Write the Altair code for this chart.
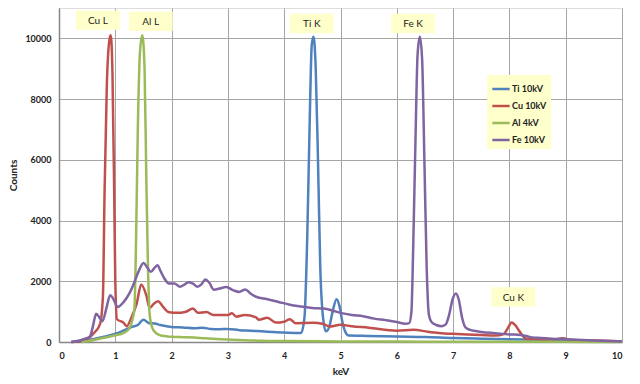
import altair as alt
import pandas as pd

# ---------------- data ----------------
ti_kev = [0.22,0.4,0.6,0.8,1.0,1.15,1.3,1.4,1.5,1.6,1.7,1.8,2.0,2.2,2.4,2.55,2.7,2.85,3.0,3.2,3.4,3.6,3.8,4.0,4.2,4.3,4.36,4.41,4.45,4.49,4.52,4.56,4.6,4.64,4.69,4.74,4.8,4.86,4.93,4.98,5.04,5.1,5.15,5.5,6.0,6.5,7.0,7.5,8.0,8.5,9.0,9.5,10.0]
ti_cnt = [0,30,90,170,270,380,500,560,735,620,610,560,495,480,450,470,430,420,430,390,370,350,330,310,300,300,800,3500,7000,9800,10050,9000,6000,2500,800,350,500,1000,1410,1200,600,280,210,200,180,165,130,110,90,70,50,35,20]

cu_kev = [0.22,0.4,0.5,0.61,0.73,0.78,0.81,0.85,0.9,0.92,0.95,0.98,1.0,1.03,1.15,1.2,1.29,1.38,1.46,1.55,1.61,1.69,1.76,1.85,1.94,2.09,2.24,2.38,2.47,2.62,2.74,2.86,3.0,3.07,3.15,3.3,3.5,3.55,3.7,3.85,4.0,4.1,4.2,4.5,4.7,4.8,5.0,5.2,5.5,6.0,6.3,6.55,6.75,7.0,7.25,7.5,7.75,7.9,7.97,8.04,8.1,8.18,8.3,8.5,8.75,8.95,9.1,9.5,10.0]
cu_cnt = [0,40,90,275,600,1500,5000,8500,10000,10100,8800,5000,2000,750,630,520,825,1265,1890,1540,1120,1265,1340,1155,990,960,990,1100,960,990,890,890,890,945,835,890,810,730,800,640,670,750,620,630,590,510,565,520,470,370,400,340,300,270,250,230,210,260,450,640,560,350,110,95,85,120,70,50,20]

al_kev = [0.4,0.6,0.8,1.0,1.15,1.25,1.3,1.34,1.37,1.4,1.44,1.48,1.52,1.55,1.58,1.61,1.65,1.72,1.8,1.9,2.0,2.2,2.4,2.6,2.8,3.0,3.3,3.6,4.0,5.0,6.0,7.0,8.0,9.0,10.0]
al_cnt = [0,60,140,220,300,450,700,1100,3500,7000,9600,10100,9000,5500,2500,900,500,300,220,190,170,160,150,120,100,80,60,40,30,20,15,10,8,5,3]

fe_kev = [0.22,0.35,0.45,0.55,0.6,0.66,0.72,0.77,0.84,0.91,0.97,1.04,1.15,1.25,1.33,1.42,1.5,1.57,1.63,1.7,1.75,1.8,1.87,1.95,2.05,2.15,2.22,2.3,2.38,2.46,2.53,2.6,2.67,2.75,2.85,2.97,3.1,3.2,3.31,3.4,3.5,3.7,3.9,4.1,4.3,4.5,4.7,4.85,5.0,5.2,5.4,5.6,5.8,6.0,6.15,6.22,6.26,6.29,6.33,6.37,6.41,6.45,6.49,6.53,6.57,6.62,6.7,6.8,6.87,6.93,6.99,7.05,7.1,7.16,7.22,7.3,7.4,7.5,7.75,8.0,8.2,8.3,8.4,8.5,8.75,9.0,9.5,10.0]
fe_cnt = [0,40,100,180,500,930,800,680,1100,1540,1400,1150,1320,1600,1930,2350,2600,2450,2310,2450,2530,2350,2100,1930,1930,1820,1880,1970,1920,1820,1900,2060,1950,1720,1760,1810,1700,1650,1730,1600,1490,1410,1320,1230,1170,1120,1100,1040,960,890,850,770,720,660,600,620,1000,3000,6500,9500,10050,9300,6000,2500,900,650,560,520,580,900,1400,1600,1400,800,480,400,360,330,290,250,230,200,145,140,110,90,50,15]

series_names = ["Ti 10kV", "Cu 10kV", "Al 4kV", "Fe 10kV"]
series_colors = ["#4F81BD", "#C0504D", "#9BBB59", "#8064A2"]

label_text = ["Cu L", "Al L", "Ti K", "Fe K", "Cu K"]
label_kev = [0.69, 1.63, 4.49, 6.29, 8.07]
label_cnt = [10600, 10560, 10490, 10490, 1480]

y_ticks = list(range(0, 11001, 500))
x_ticks = [i * 0.5 for i in range(21)]

# ---------------- frames ----------------
rows = []
for name, xs, ys in zip(series_names, [ti_kev, cu_kev, al_kev, fe_kev], [ti_cnt, cu_cnt, al_cnt, fe_cnt]):
    for i, (xv, yv) in enumerate(zip(xs, ys)):
        rows.append({"series": name, "kev": xv, "counts": yv, "order": i})
lines_df = pd.DataFrame(rows)

box_w = 0.39
box_h = 320
labels_df = pd.DataFrame({
    "text": label_text, "kev": label_kev, "counts": label_cnt,
})
labels_df["x1"] = labels_df["kev"] - box_w
labels_df["x2"] = labels_df["kev"] + box_w
labels_df["y1"] = labels_df["counts"] - box_h
labels_df["y2"] = labels_df["counts"] + box_h

FONT = "Lato"

x_scale = alt.Scale(domain=[0, 10], nice=False, zero=False)
y_scale = alt.Scale(domain=[0, 11000], nice=False)

x_axis = alt.Axis(
    values=x_ticks, title="keV", format="d",
    labelExpr="datum.value % 1 === 0 ? format(datum.value, 'd') : ''",
    gridColor={"condition": {"test": "datum.value % 1 === 0", "value": "#A6A6A6"}, "value": "#D9D9D9"},
    ticks=False, labelPadding=9, titlePadding=6,
    labelFont=FONT, titleFont=FONT, labelFontSize=9, titleFontSize=10,
    labelFontWeight="bold", titleFontWeight="bold", labelColor="#222", titleColor="#222",
    domainColor="#868686", domainWidth=1.5,
)
y_axis = alt.Axis(
    values=y_ticks, title="Counts", format="d",
    labelExpr="(datum.value % 2000 === 0 && datum.value <= 10000) ? format(datum.value, 'd') : ''",
    gridColor={"condition": {"test": "datum.value % 2000 === 0", "value": "#A6A6A6"}, "value": "#D9D9D9"},
    ticks=False, labelPadding=8, titlePadding=6,
    labelFont=FONT, titleFont=FONT, labelFontSize=9, titleFontSize=10,
    labelFontWeight="bold", titleFontWeight="bold", labelColor="#222", titleColor="#222",
    domainColor="#868686", domainWidth=1.5,
)

lines = alt.Chart(lines_df).mark_line(strokeWidth=2.5, interpolate="monotone").encode(
    x=alt.X("kev:Q", scale=x_scale, axis=x_axis),
    y=alt.Y("counts:Q", scale=y_scale, axis=y_axis),
    color=alt.Color("series:N",
                    scale=alt.Scale(domain=series_names, range=series_colors),
                    legend=alt.Legend(
                        title=None, orient="none", legendX=428, legendY=67,
                        fillColor="#FFFFCC", padding=4, symbolType="stroke",
                        symbolSize=300, symbolStrokeWidth=2.5, rowPadding=2,
                        labelFont=FONT, labelFontSize=9, labelFontWeight="bold",
                        labelColor="#222", labelOffset=1,
                    )),
    order="order:Q",
    detail="series:N",
)

boxes = alt.Chart(labels_df).mark_rect(color="#FFFFCC").encode(
    x=alt.X("x1:Q", scale=x_scale),
    x2="x2:Q",
    y=alt.Y("y1:Q", scale=y_scale),
    y2="y2:Q",
)

texts = alt.Chart(labels_df).mark_text(font=FONT, fontSize=10, color="#222", dy=1).encode(
    x=alt.X("kev:Q", scale=x_scale),
    y=alt.Y("counts:Q", scale=y_scale),
    text="text:N",
)

chart = alt.layer(lines, boxes, texts).properties(
    width=563, height=334,
    autosize=alt.AutoSizeParams(type="none"),
    padding={"left": 51, "top": 0, "right": 10, "bottom": 34},
).configure_view(stroke="#A6A6A6", strokeWidth=1).configure(background="white")

chart.save("out.html", embed_options={"renderer": "svg", "actions": False})
